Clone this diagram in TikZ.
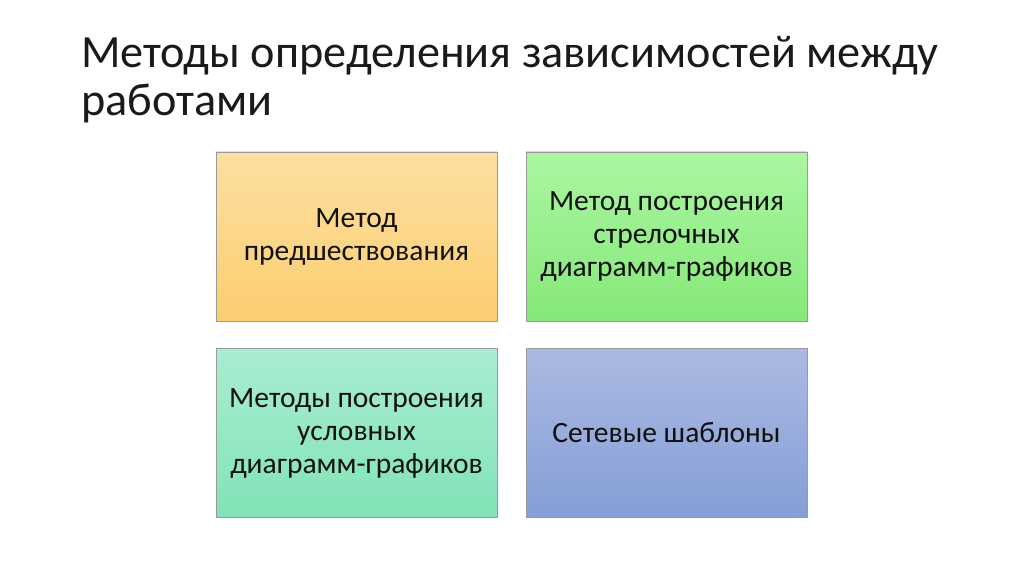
\documentclass[tikz,border=0pt]{standalone}
\usepackage{fontspec}
\setmainfont{Carlito}
\definecolor{orT}{HTML}{FEDFA2}
\definecolor{orB}{HTML}{FBCE70}
\definecolor{grT}{HTML}{ABF6A2}
\definecolor{grB}{HTML}{86E879}
\definecolor{tlT}{HTML}{AAEDD2}
\definecolor{tlB}{HTML}{80E3B6}
\definecolor{blT}{HTML}{ABBAE2}
\definecolor{blB}{HTML}{859ED6}
\definecolor{edge}{HTML}{9A9A9A}
\definecolor{txt}{HTML}{111111}
\definecolor{ttltxt}{HTML}{1A1A1A}
\tikzset{
  box/.style={draw=edge, line width=0.8pt, minimum width=281pt, minimum height=169pt,
    inner sep=0pt, align=center, text=txt,
    font=\fontsize{29.5pt}{33pt}\selectfont},
  ttl/.style={anchor=base west, inner sep=0pt, align=left, text=ttltxt,
    font=\fontsize{46.2pt}{48pt}\selectfont}
}
\begin{document}
\begin{tikzpicture}[x=1pt,y=1pt]
\useasboundingbox[fill=white] (0,0) rectangle (1024,574);
\node[ttl] (title) at (81,458) {Методы определения зависимостей между\\работами};
\node[box, top color=orT, bottom color=orB] (b1) at (356.5,337.5) {Метод\\предшествования};
\node[box, top color=grT, bottom color=grB] (b2) at (666.5,337.5) {Метод построения\\стрелочных\\диаграмм-графиков};
\node[box, top color=tlT, bottom color=tlB] (b3) at (356.5,141) {Методы построения\\условных\\диаграмм-графиков};
\node[box, top color=blT, bottom color=blB] (b4) at (666.5,141) {Сетевые шаблоны};
\end{tikzpicture}
\end{document}
